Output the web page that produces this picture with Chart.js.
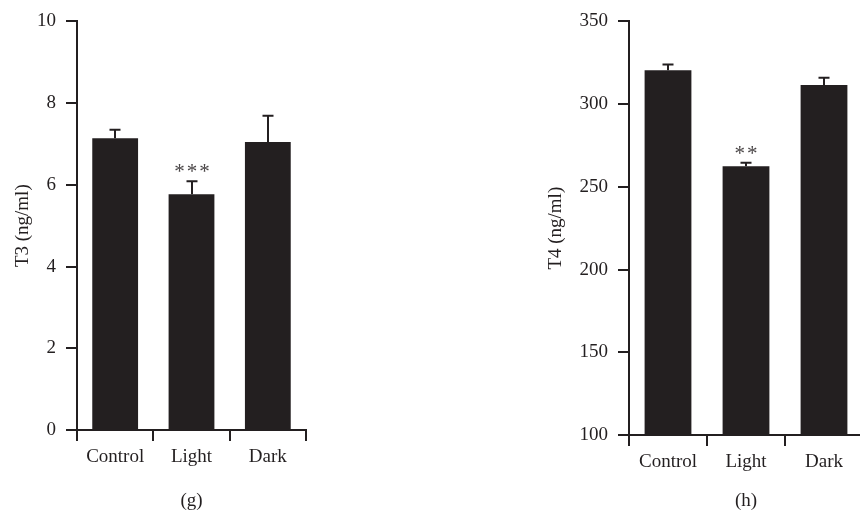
<!DOCTYPE html>
<html>
<head>
<meta charset="utf-8">
<script src="https://cdn.jsdelivr.net/npm/chart.js@4.4.0/dist/chart.umd.min.js"></script>
<style>
  html, body { margin: 0; padding: 0; background: #ffffff; }
  body { width: 860px; height: 518px; overflow: hidden; position: relative; }
  canvas { position: absolute; top: 0; }
  #t3 { left: 0; }
  #t4 { left: 540px; }
</style>
</head>
<body>
<canvas id="t3" width="330" height="518"></canvas>
<canvas id="t4" width="330" height="518"></canvas>
<script>
// Groups shared by both panels
const categories = ['Control', 'Light', 'Dark'];

// Panel (g): serum T3, mean and upper SEM
const t3Means = [7.14, 5.77, 7.05];
const t3Errors = [0.21, 0.32, 0.64];
const t3Marks = ['', '***', ''];
const t3Ticks = [0, 2, 4, 6, 8, 10];

// Panel (h): serum T4, mean and upper SEM
const t4Means = [320.5, 262.5, 311.5];
const t4Errors = [3.5, 2.0, 4.5];
const t4Marks = ['', '**', ''];
const t4Ticks = [100, 150, 200, 250, 300, 350];

const INK = '#231f20';
const FONT = "'Liberation Serif', 'Times New Roman', serif";
const TEXT_SIZE = 19;

// Upper error bars and significance stars on top of each bar
const errorBarPlugin = {
  id: 'errorBars',
  afterDatasetsDraw(chart, args, opts) {
    const ctx = chart.ctx;
    const yScale = chart.scales.y;
    const meta = chart.getDatasetMeta(0);
    ctx.save();
    ctx.strokeStyle = INK;
    ctx.lineWidth = 2;
    meta.data.forEach((bar, i) => {
      const top = yScale.getPixelForValue(opts.means[i] + opts.errors[i]);
      const x = Math.round(bar.x);
      ctx.beginPath();
      ctx.moveTo(x, bar.y);
      ctx.lineTo(x, top);
      ctx.moveTo(x - 5.5, top);
      ctx.lineTo(x + 5.5, top);
      ctx.stroke();
      const mark = opts.marks[i];
      if (mark) {
        ctx.fillStyle = '#4a4647';
        ctx.font = '21px ' + FONT;
        ctx.textAlign = 'center';
        ctx.textBaseline = 'alphabetic';
        const gap = 12.5;
        const n = mark.length;
        for (let k = 0; k < n; k++) {
          const sx = x + (k - (n - 1) / 2) * gap;
          ctx.fillText(mark[k], sx, top - 3);
        }
      }
    });
    ctx.restore();
  }
};

function makePanel(id, means, errors, marks, ticks, yTitle, panelTag, yTitlePad, yWidth, xHeight, padRight) {
  const lo = ticks[0];
  const hi = ticks[ticks.length - 1];
  return new Chart(document.getElementById(id), {
    type: 'bar',
    data: {
      labels: categories,
      datasets: [{
        data: means,
        backgroundColor: INK,
        borderWidth: 0,
        categoryPercentage: 1.0,
        barPercentage: 0.6
      }]
    },
    options: {
      responsive: false,
      devicePixelRatio: 1,
      animation: false,
      layout: { padding: { top: 21, right: padRight, bottom: 0, left: 0 } },
      plugins: {
        legend: { display: false },
        tooltip: { enabled: false },
        errorBars: { means: means, errors: errors, marks: marks }
      },
      scales: {
        x: {
          offset: true,
          grid: {
            offset: true,
            drawOnChartArea: false,
            drawTicks: true,
            tickLength: 11,
            color: INK,
            lineWidth: 2
          },
          border: { display: true, color: INK, width: 2 },
          ticks: { color: INK, font: { family: FONT, size: TEXT_SIZE }, padding: 5, maxRotation: 0 },
          title: {
            display: true,
            text: panelTag,
            color: INK,
            font: { family: FONT, size: TEXT_SIZE },
            padding: { top: 0, bottom: 6 }
          },
          afterFit(scale) { scale.height = xHeight; }
        },
        y: {
          min: lo,
          max: hi,
          afterBuildTicks(scale) { scale.ticks = ticks.map(v => ({ value: v })); },
          grid: {
            drawOnChartArea: false,
            drawTicks: true,
            tickLength: 11,
            color: INK,
            lineWidth: 2
          },
          border: { display: true, color: INK, width: 2 },
          ticks: { color: INK, font: { family: FONT, size: TEXT_SIZE }, padding: 10 },
          title: {
            display: true,
            text: yTitle,
            color: INK,
            font: { family: FONT, size: TEXT_SIZE },
            padding: { top: yTitlePad, bottom: 0 }
          },
          afterFit(scale) { scale.width = yWidth; }
        }
      }
    },
    plugins: [errorBarPlugin]
  });
}

makePanel('t3', t3Means, t3Errors, t3Marks, t3Ticks, 'T3 (ng/ml)', '(g)', 12, 77, 88, 24);
makePanel('t4', t4Means, t4Errors, t4Marks, t4Ticks, 'T4 (ng/ml)', '(h)', 5, 89, 83, 7);
</script>
</body>
</html>
